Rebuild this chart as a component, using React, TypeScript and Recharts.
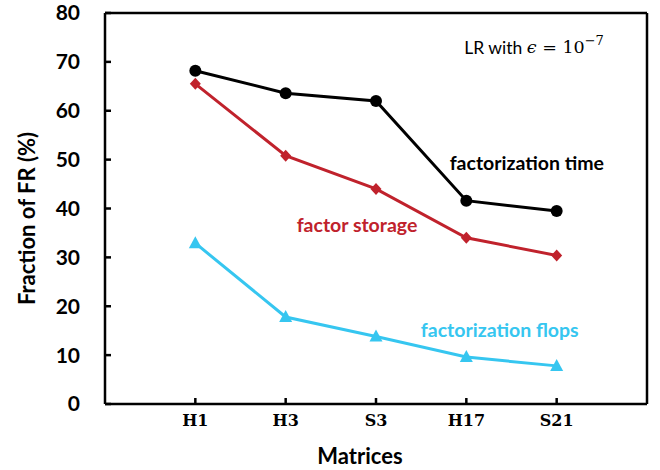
import React from 'react';
import { LineChart, Line, XAxis, YAxis, ReferenceLine, ReferenceDot } from 'recharts';

const matrices = ['H1', 'H3', 'S3', 'H17', 'S21'];
const factorTime = [68.2, 63.6, 62.0, 41.6, 39.5];
const factorStorage = [65.5, 50.8, 44.0, 34.0, 30.4];
const factorFlops = [32.9, 17.8, 13.8, 9.6, 7.8];
const yTicks = [0, 10, 20, 30, 40, 50, 60, 70, 80];

const data = matrices.map((m, i) => ({
  idx: i + 1,
  name: m,
  time: factorTime[i],
  storage: factorStorage[i],
  flops: factorFlops[i],
}));

const BLACK = '#000000';
const RED = '#C0222C';
const BLUE = '#36C6F0';
const SANS = 'Lato, "Open Sans", sans-serif';

const Circle = (p: any) => <circle key={p.key ?? p.index} cx={p.cx} cy={p.cy} r={6} fill={BLACK} />;
const Diamond = (p: any) => (
  <path
    key={p.key ?? p.index}
    d={`M${p.cx},${p.cy - 6} L${p.cx + 5.5},${p.cy} L${p.cx},${p.cy + 6} L${p.cx - 5.5},${p.cy} Z`}
    fill={RED}
  />
);
const Triangle = (p: any) => (
  <path
    key={p.key ?? p.index}
    d={`M${p.cx},${p.cy - 7} L${p.cx + 6.5},${p.cy + 5} L${p.cx - 6.5},${p.cy + 5} Z`}
    fill={BLUE}
  />
);

const note = (value: string, fill: string) => ({
  value,
  position: 'center' as const,
  fill,
  fontSize: 19.5,
  fontWeight: 700,
  fontFamily: SANS,
});

const App: React.FC = () => {
  return (
    <div style={{ position: 'absolute', left: 0, top: 0, width: 660, height: 470, background: '#fff' }}>
      <LineChart width={660} height={470} data={data} margin={{ top: 13, right: 13, bottom: 0, left: 0 }}>
        <XAxis
          dataKey="idx"
          type="number"
          domain={[0, 6]}
          ticks={[1, 2, 3, 4, 5]}
          tickFormatter={(v: number) => matrices[v - 1]}
          height={66}
          stroke={BLACK}
          strokeWidth={2.5}
          tickSize={-6}
          tickMargin={17}
          tick={{ fill: BLACK, fontSize: 16, fontWeight: 700, fontFamily: '"DejaVu Serif", serif' }}
          label={{ value: 'Matrices', position: 'insideBottom', offset: 6, dx: -16, fill: BLACK, fontSize: 22, fontWeight: 700, fontFamily: SANS }}
        />
        <YAxis
          domain={[0, 80]}
          ticks={yTicks}
          width={105}
          stroke={BLACK}
          strokeWidth={2.5}
          tickSize={-6}
          tickMargin={31}
          interval={0}
          tick={{ fill: BLACK, fontSize: 21, fontWeight: 700, fontFamily: SANS }}
          label={{
            content: ({ viewBox }: any) => (
              <text
                x={viewBox.x + 26}
                y={viewBox.y + viewBox.height / 2 + 10}
                transform={`rotate(-90, ${viewBox.x + 26}, ${viewBox.y + viewBox.height / 2 + 10})`}
                textAnchor="middle"
                dominantBaseline="central"
                fill={BLACK}
                fontSize={22}
                fontWeight={700}
                fontFamily={SANS}
              >
                Fraction of FR (%)
              </text>
            ),
          }}
        />
        <ReferenceLine x={6} stroke={BLACK} strokeWidth={2.5} />
        <ReferenceLine y={80} stroke={BLACK} strokeWidth={2.5} />

        <Line dataKey="flops" stroke={BLUE} strokeWidth={3} dot={Triangle} activeDot={false} isAnimationActive={false} />
        <Line dataKey="storage" stroke={RED} strokeWidth={3} dot={Diamond} activeDot={false} isAnimationActive={false} />
        <Line dataKey="time" stroke={BLACK} strokeWidth={3} dot={Circle} activeDot={false} isAnimationActive={false} />

        <ReferenceDot x={4.67} y={49.3} r={0} fill="none" stroke="none" label={note('factorization time', BLACK)} />
        <ReferenceDot x={2.79} y={36.6} r={0} fill="none" stroke="none" label={note('factor storage', RED)} />
        <ReferenceDot x={4.37} y={15.1} r={0} fill="none" stroke="none" label={note('factorization flops', BLUE)} />
        <ReferenceDot
          x={4.75}
          y={73}
          r={0}
          fill="none"
          stroke="none"
          label={{
            content: ({ viewBox }: any) => {
              const cx = viewBox.x + (viewBox.width || 0) / 2;
              const cy = viewBox.y + (viewBox.height || 0) / 2;
              return (
                <text x={cx} y={cy} textAnchor="middle" dominantBaseline="central" fill={BLACK} fontSize={17.5} fontFamily={SANS}>
                  LR with{' '}
                  <tspan fontFamily='"DejaVu Serif", serif' fontStyle="italic">ϵ</tspan>
                  <tspan fontFamily='"DejaVu Serif", serif'> = 10</tspan>
                  <tspan fontFamily='"DejaVu Serif", serif' fontSize={13} dy={-7}>−7</tspan>
                </text>
              );
            },
          }}
        />
      </LineChart>
    </div>
  );
};

export default App;
